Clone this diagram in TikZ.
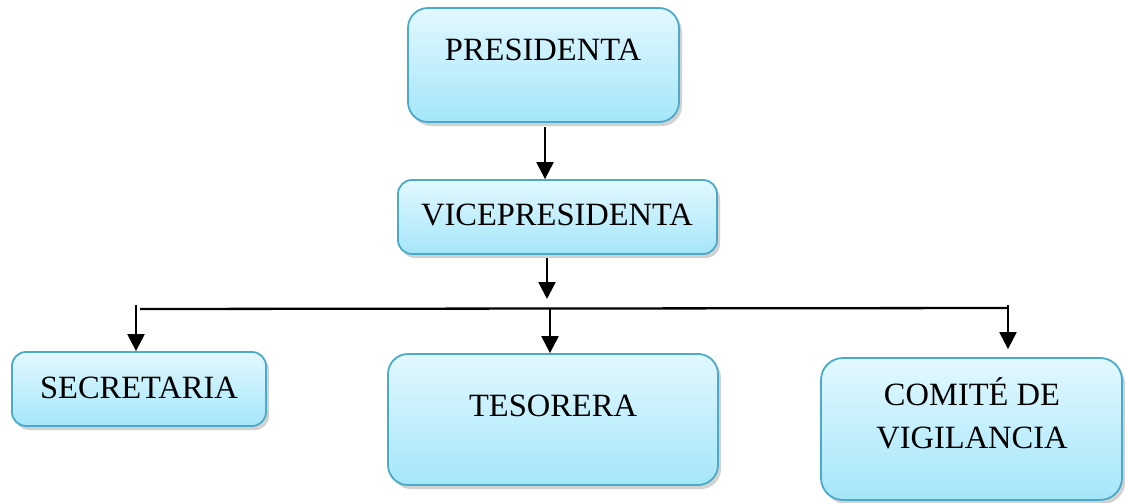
\documentclass[tikz,border=0pt]{standalone}
\usepackage{fontspec}
\setmainfont{Liberation Serif}
\usetikzlibrary{arrows.meta,shadows,calc}
\definecolor{boxtop}{HTML}{E2F8FE}
\definecolor{boxbot}{HTML}{A5E6FA}
\definecolor{boxline}{HTML}{4BAAC8}
\tikzset{
  orgbox/.style={draw=boxline, line width=1.8pt, top color=boxtop, bottom color=boxbot,
    rounded corners=#1, inner sep=0pt,
    drop shadow={shadow xshift=3pt, shadow yshift=-4pt, fill=black!35, opacity=0.5}},
  orgbox/.default=18pt,
  lbl/.style={anchor=base, inner sep=0pt, font=\fontsize{32.5}{43}\selectfont, align=center},
  arr/.style={line width=2.3pt, -{Triangle[length=17pt,width=17pt]}},
  bus/.style={line width=2.3pt}
}
\begin{document}
\begin{tikzpicture}[x=1pt,y=-1pt]
\useasboundingbox (0,0) rectangle (1125,503);
% boxes
\node[orgbox=20pt, minimum width=271pt, minimum height=114pt] (pres) at (543.5,65) {};
\node[orgbox=14pt, minimum width=319pt, minimum height=74pt] (vice) at (557.5,217) {};
\node[orgbox=14pt, minimum width=254pt, minimum height=74pt] (sec) at (139,389) {};
\node[orgbox=20pt, minimum width=330pt, minimum height=131pt] (tes) at (553,419.5) {};
\node[orgbox=22pt, minimum width=301pt, minimum height=142pt] (com) at (971.5,429) {};
% labels
\node[lbl] (presT) at (543,61) {PRESIDENTA};
\node[lbl] (viceT) at (557,225) {VICEPRESIDENTA};
\node[lbl] (secT) at (139,398) {SECRETARIA};
\node[lbl] (tesT) at (553,416) {TESORERA};
\node[lbl] (comT) at (972,448) {COMITÉ DE\\VIGILANCIA};
% connectors
\coordinate (pv1) at ($(pres.south)+(1.5,4)$);
\draw[arr] (pv1) -- (pv1 |- vice.north);
\coordinate (vb1) at (547,258);
\coordinate (vb2) at (547,299);
\draw[arr] (vb1) -- (vb2);
\coordinate (busL) at (140,309);
\coordinate (busR) at (1008,308);
\draw[bus] (busL) -- (busR);
\coordinate (sA) at (136,305);
\draw[arr] (sA) -- (sA |- sec.north);
\coordinate (tA) at (550,309);
\draw[arr] (tA) -- (tA |- tes.north);
\coordinate (cA) at (1008,305);
\draw[arr] (cA) -- ($(cA |- com.north)+(0,-8)$);
\end{tikzpicture}
\end{document}
